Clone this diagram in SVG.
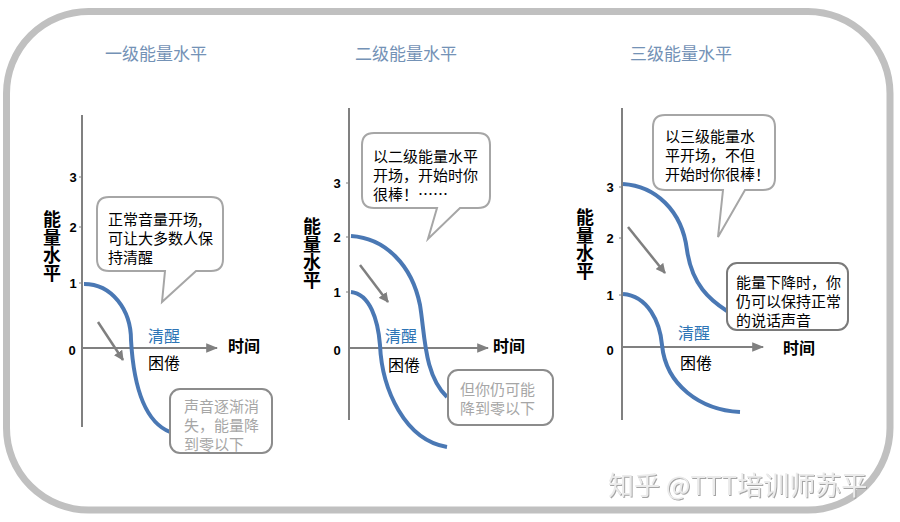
<svg xmlns="http://www.w3.org/2000/svg" width="900" height="522" viewBox="0 0 900 522">
<defs>
<style>
text{font-family:"Noto Sans CJK SC","Liberation Sans",sans-serif;dominant-baseline:central}
.title{font-size:17px;fill:#7492b6}
.num{font-family:"Liberation Sans",Arial,sans-serif;font-size:13px;font-weight:bold;fill:#000;text-anchor:middle}
.ylab{font-size:18px;font-weight:bold;fill:#000;text-anchor:middle;writing-mode:vertical-rl;letter-spacing:0}
.xlab{font-size:16px;font-weight:bold;fill:#000}
.axis{stroke:#808080;stroke-width:2;fill:none}
.tick{stroke:#808080;stroke-width:1;fill:none}
.curve{stroke:#4a78b4;stroke-width:4;fill:none;stroke-linecap:butt}
.trend{stroke:#7f7f7f;stroke-width:2.5;fill:none}
.wake{font-size:16px;fill:#2e75b6}
.sleep{font-size:16px;fill:#000}
.bubble{fill:#fff;stroke:#a6a6a6;stroke-width:2}
.note{fill:#fff;stroke:#8c8c8c;stroke-width:2}
.bt{font-size:15px;fill:#000}
.gt{font-size:15px;fill:#a6a6a6}
.wm{font-size:26px;fill:#ebebeb;filter:url(#emb)}
</style>
<marker id="ah" viewBox="0 0 10 10" refX="9" refY="5" markerWidth="4" markerHeight="4" orient="auto" markerUnits="strokeWidth"><path d="M0,0 L10,5 L0,10 Z" fill="#7f7f7f"/></marker>
<marker id="xa" viewBox="0 0 10 10" refX="9" refY="5" markerWidth="6" markerHeight="6" orient="auto" markerUnits="strokeWidth"><path d="M0,1 L10,5 L0,9 Z" fill="#808080"/></marker>
<filter id="emb" x="-5%" y="-20%" width="110%" height="140%"><feDropShadow dx="1" dy="1" stdDeviation="0.6" flood-color="#9a9a9a" flood-opacity="0.9"/></filter>
</defs>
<rect width="900" height="522" fill="#fff"/>
<rect x="6.5" y="11.5" width="883.5" height="498.5" rx="82" ry="82" fill="none" stroke="#c0c0c0" stroke-width="7"/>

<g id="chart1">
<text class="title" x="105" y="52">一级能量水平</text>
<line class="axis" x1="82" y1="115" x2="82" y2="427"/>
<line class="axis" x1="82" y1="348" x2="217" y2="348" marker-end="url(#xa)"/>
<path class="tick" d="M79,177H82M79,227H82M79,283H82"/>
<text class="num" x="73" y="177">3</text>
<text class="num" x="73" y="227">2</text>
<text class="num" x="73" y="283">1</text>
<text class="num" x="72" y="350">0</text>
<text class="ylab" x="52" y="246">能量水平</text>
<text class="xlab" x="228" y="345">时间</text>
<text class="wake" x="148" y="335">清醒</text>
<text class="sleep" x="148" y="362">困倦</text>
</g>

<g id="chart2">
<text class="title" x="355" y="52">二级能量水平</text>
<line class="axis" x1="349" y1="108" x2="349" y2="420"/>
<line class="axis" x1="349" y1="348" x2="488" y2="348" marker-end="url(#xa)"/>
<path class="tick" d="M346,183H349M346,237H349M346,292H349"/>
<text class="num" x="337" y="183">3</text>
<text class="num" x="337" y="237">2</text>
<text class="num" x="337" y="292">1</text>
<text class="num" x="337" y="350">0</text>
<text class="ylab" x="312" y="253">能量水平</text>
<text class="xlab" x="493" y="345">时间</text>
<text class="wake" x="385" y="335">清醒</text>
<text class="sleep" x="388" y="364">困倦</text>
</g>

<g id="chart3">
<text class="title" x="630" y="52">三级能量水平</text>
<line class="axis" x1="622" y1="108" x2="622" y2="420"/>
<line class="axis" x1="622" y1="347" x2="763" y2="347" marker-end="url(#xa)"/>
<path class="tick" d="M619,187H622M619,238H622M619,295H622"/>
<text class="num" x="610" y="187">3</text>
<text class="num" x="610" y="238">2</text>
<text class="num" x="610" y="295">1</text>
<text class="num" x="610" y="350">0</text>
<text class="ylab" x="585" y="244">能量水平</text>
<text class="xlab" x="783" y="347">时间</text>
<text class="wake" x="678" y="332">清醒</text>
<text class="sleep" x="680" y="362">困倦</text>
</g>

<g id="connectors">
<path class="curve" d="M84,284 C112,284 131,310 131,340 C133,375 140,420 170,432"/>
<path class="curve" d="M351,236 C385,238 412,265 420,305 C425,335 424,375 447,397"/>
<path class="curve" d="M351,292 C370,294 378,320 380,345 C382,390 405,440 447,447"/>
<path class="curve" d="M623,184 C655,186 682,210 687,250 C692,285 710,300 727,311"/>
<path class="curve" d="M623,294 C648,296 660,322 662,345 C666,385 700,410 740,412"/>
<line class="trend" x1="98" y1="322" x2="123" y2="360" marker-end="url(#ah)"/>
<line class="trend" x1="360" y1="265" x2="388" y2="302" marker-end="url(#ah)"/>
<line class="trend" x1="628" y1="227" x2="665" y2="273" marker-end="url(#ah)"/>
</g>

<g id="callout1">
<path class="bubble" d="M109,197 H211 Q223,197 223,209 V259 Q223,271 211,271 H196 L162,302 L165,271 H109 Q97,271 97,259 V209 Q97,197 109,197 Z"/>
<text class="bt" x="108" y="218">正常音量开场,<tspan x="108" dy="19">可让大多数人保</tspan><tspan x="108" dy="19">持清醒</tspan></text>
</g>

<g id="callout2">
<rect class="note" x="170" y="389" width="102" height="64" rx="10"/>
<text class="gt" x="184" y="405">声音逐渐消<tspan x="184" dy="19">失，能量降</tspan><tspan x="184" dy="19">到零以下</tspan></text>
</g>

<g id="callout3">
<path class="bubble" d="M374,133 H478 Q490,133 490,145 V196 Q490,208 478,208 H460 L428,239 L437,208 H374 Q362,208 362,196 V145 Q362,133 374,133 Z"/>
<text class="bt" x="373" y="155">以二级能量水平<tspan x="373" dy="19">开场，开始时你</tspan><tspan x="373" dy="19">很棒！……</tspan></text>
</g>

<g id="callout4">
<rect class="note" x="448" y="370" width="105" height="55" rx="10"/>
<text class="gt" x="460" y="388">但你仍可能<tspan x="460" dy="19">降到零以下</tspan></text>
</g>

<g id="callout5">
<path class="bubble" d="M665,115 H763 Q775,115 775,127 V178 Q775,190 763,190 H745 L718,237 L723,190 H665 Q653,190 653,178 V127 Q653,115 665,115 Z"/>
<text class="bt" x="665" y="135">以三级能量水<tspan x="665" dy="19">平开场，不但</tspan><tspan x="665" dy="19">开始时你很棒！</tspan></text>
</g>

<g id="callout6">
<rect class="note" x="727" y="263" width="121" height="67" rx="10" style="stroke:#7a7a7a"/>
<text class="bt" x="736" y="281">能量下降时，你<tspan x="736" dy="19">仍可以保持正常</tspan><tspan x="736" dy="19">的说话声音</tspan></text>
</g>

<text class="wm" x="608" y="483">知乎 @TTT培训师苏平</text>
</svg>
